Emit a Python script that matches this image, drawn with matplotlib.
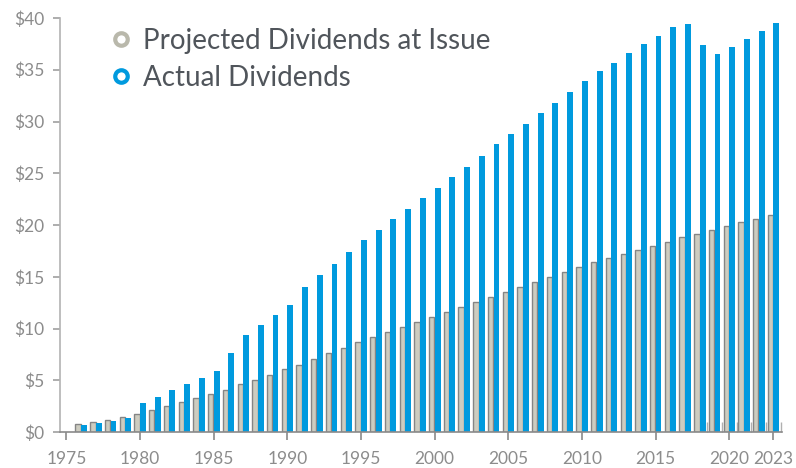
import matplotlib
matplotlib.use("Agg")
import matplotlib.pyplot as plt
from matplotlib.lines import Line2D
import numpy as np

years = list(range(1976, 2024))
projected = [0.77, 0.93, 1.13, 1.45, 1.77, 2.1, 2.5, 2.87, 3.25, 3.67,
             4.1, 4.6, 5.05, 5.5, 6.05, 6.5, 7.1, 7.6, 8.15, 8.67,
             9.15, 9.63, 10.1, 10.6, 11.08, 11.56, 12.05, 12.53, 13.04, 13.5,
             13.98, 14.49, 14.98, 15.46, 15.95, 16.4, 16.8, 17.2, 17.6, 18.0,
             18.4, 18.8, 19.1, 19.5, 19.9, 20.3, 20.6, 21.0]
actual = [0.68, 0.87, 1.06, 1.38, 2.8, 3.38, 4.06, 4.64, 5.2, 5.9,
          7.6, 9.4, 10.3, 11.3, 12.27, 14.0, 15.17, 16.23, 17.39, 18.55,
          19.5, 20.58, 21.55, 22.6, 23.57, 24.64, 25.6, 26.67, 27.8, 28.8,
          29.76, 30.8, 31.8, 32.85, 33.9, 34.9, 35.7, 36.6, 37.5, 38.3,
          39.1, 39.4, 37.4, 36.5, 37.2, 37.96, 38.7, 39.5]
xtick_years = [1975, 1980, 1985, 1990, 1995, 2000, 2005, 2010, 2015, 2020, 2023]
ytick_vals = [0, 5, 10, 15, 20, 25, 30, 35, 40]
ytick_labels = ["$" + str(v) for v in ytick_vals]
series_names = ["Projected Dividends at Issue", "Actual Dividends"]

BLUE = "#009ade"
GRAY_FILL = "#cdccc0"
GRAY_EDGE = "#858585"
TEXT = "#8c8c8c"

plt.rcParams['font.family'] = ['Lato', 'DejaVu Sans']

fig = plt.figure(figsize=(7.96, 4.68), dpi=100)
ax = fig.add_axes([60/796, 36/468, (782-60)/796, (432-18)/468])

x = np.array(years, dtype=float)
ax.bar(x - 0.2, projected, width=0.36, color=GRAY_FILL, edgecolor=GRAY_EDGE,
       linewidth=1.0, zorder=2)
ax.bar(x + 0.2, actual, width=0.40, color=BLUE, linewidth=0, zorder=2)

ax.set_xlim(1974.57, 2023.58)
ax.set_ylim(0, 40)

for s in ["top", "right"]:
    ax.spines[s].set_visible(False)
ax.spines["left"].set_color("#b3b3b3")
ax.spines["left"].set_linewidth(1.2)
ax.spines["bottom"].set_color("#8a8a8a")
ax.spines["bottom"].set_linewidth(1.2)

ax.set_yticks(ytick_vals)
ax.set_yticklabels(ytick_labels)
ax.set_xticks(xtick_years)
ax.set_xticklabels([str(y) for y in xtick_years])
ax.tick_params(axis="y", colors="#a0a0a0", labelcolor=TEXT, labelsize=12.5,
               length=5, width=1.2, pad=6)
ax.tick_params(axis="x", colors="#8a8a8a", labelcolor=TEXT, labelsize=12.5,
               length=5.5, width=1.2, pad=8)

minor = [2018.5, 2019.5, 2020.5, 2021.5, 2022.5, 2023.5]
ax.set_xticks(minor, minor=True)
ax.tick_params(axis="x", which="minor", direction="in", length=7.5,
               width=1.0, colors="#b0b0b0")

handles = [
    Line2D([], [], linestyle="none", marker="o", markersize=9,
           markerfacecolor="white", markeredgecolor="#b9b8ab", markeredgewidth=3),
    Line2D([], [], linestyle="none", marker="o", markersize=9,
           markerfacecolor="white", markeredgecolor=BLUE, markeredgewidth=3),
]
leg = fig.legend(handles, series_names, loc="upper left",
                 bbox_to_anchor=(107/796, 1 - 28/468), frameon=False,
                 fontsize=20, handletextpad=0.3, labelspacing=0.4,
                 handlelength=1.0, borderpad=0, borderaxespad=0)
for t in leg.get_texts():
    t.set_color("#50555b")

fig.savefig("out.png", dpi=100)
